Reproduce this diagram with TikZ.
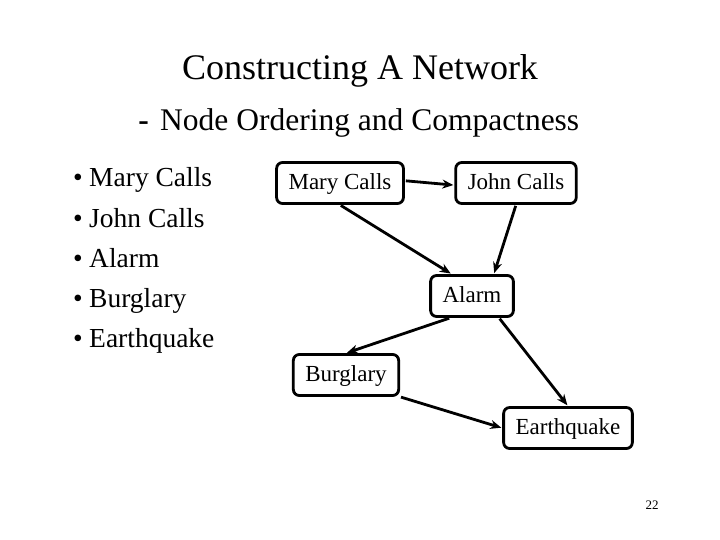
\documentclass[tikz,border=0pt]{standalone}
\usepackage{fontspec}
\setmainfont{Liberation Serif}
\usetikzlibrary{arrows.meta,positioning}
\tikzset{
    %Define standard arrow tip
    >={Stealth[length=11pt,width=9pt]},
    %Define style for boxes
    varbox/.style={
           rectangle,
           rounded corners=6pt,
           draw=black, line width=2.8pt,
           inner xsep=12pt,
           inner ysep=0pt,
           text height=17pt,
           text depth=4pt,
           minimum height=41pt,
           font=\fontsize{23}{26}\selectfont,
           text centered},
    %Define style for the list
    listitem/.style={
           anchor=base west,
           inner sep=0pt,
           font=\fontsize{27.5}{32}\selectfont},
    % Define arrow style
    dep/.style={
           ->,
           line width=2.8pt,
           shorten <=1pt,
           shorten >=1pt}
}
\begin{document}
\begin{tikzpicture}[x=1pt,y=-1pt]
\useasboundingbox (0,0) rectangle (720,540);
% title
\node[anchor=base,inner sep=0pt,font=\fontsize{36}{40}\selectfont] (title) at (360,80) {Constructing A Network};
\node[anchor=base west,inner sep=0pt,font=\fontsize{31.5}{36}\selectfont] (subtitle) at (160,131) {Node Ordering and Compactness};
\node[anchor=base east,inner sep=0pt,font=\fontsize{31.5}{36}\selectfont\bfseries] (dash) at (149,131) {-};
% ordering list
\foreach \name/\txt [count=\i] in {l1/Mary Calls,l2/John Calls,l3/Alarm,l4/Burglary,l5/Earthquake}{
  \node[listitem] (\name) at (89,147+40*\i) {\txt};
  \node[listitem,anchor=base] (b\i) at (78,147+40*\i) {\textbullet};
}
% network
\node[varbox] (mary) at (340,183) {Mary Calls};
\node[varbox] (john) at (516,183) {John Calls};
\node[varbox] (alarm) at (472,296) {Alarm};
\node[varbox] (burglary) at (346,375) {Burglary};
\node[varbox] (earthquake) at (568,428) {Earthquake};
\draw[dep] (mary.2) -- (john.182);
\draw[dep] (mary.south) -- (alarm.133);
\draw[dep] (john.south) -- (alarm.45);
\draw[dep] (alarm.-135) -- (burglary.north);
\draw[dep] (alarm.-39) -- (earthquake.north);
\draw[dep] (burglary.-22) -- (earthquake.west);
% page number
\node[font=\fontsize{13}{15}\selectfont] (page) at (652,505) {22};
\end{tikzpicture}
\end{document}
